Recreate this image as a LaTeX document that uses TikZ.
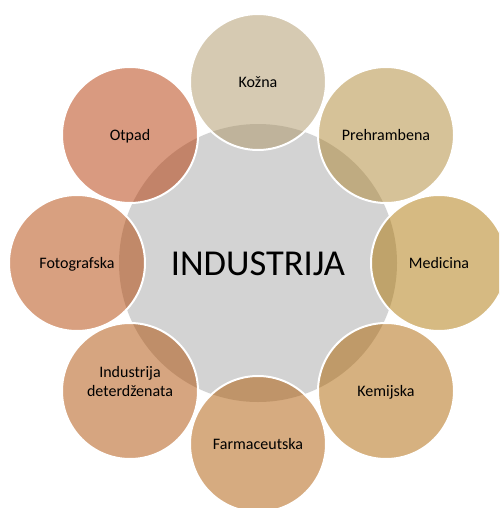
\documentclass[tikz,border=0pt]{standalone}
\usepackage{fontspec}
\setmainfont{Carlito}
\definecolor{centergrey}{RGB}{211,211,211}
\definecolor{cA}{RGB}{173,149,101}
\definecolor{cB}{RGB}{173,133,49}
\definecolor{cC}{RGB}{173,117,5}
\definecolor{cD}{RGB}{173,99,1}
\definecolor{cE}{RGB}{173,87,1}
\definecolor{cF}{RGB}{173,75,1}
\definecolor{cG}{RGB}{177,65,1}
\definecolor{cH}{RGB}{179,53,1}
\tikzset{
  bub/.style={circle, minimum size=136pt, inner sep=0pt, draw=white, line width=2pt,
    fill opacity=0.5, text opacity=1, text=black, align=center,
    font=\fontsize{16}{19}\selectfont, text height=10.3pt, text depth=0pt},
  hub/.style={circle, minimum size=278pt, inner sep=0pt, fill=centergrey},
  title/.style={font=\fontsize{36.5}{40}\selectfont, text=black, inner sep=0pt}
}
\begin{document}
\begin{tikzpicture}[x=1pt,y=-1pt]
\useasboundingbox (0,0) rectangle (499,508);
\clip (0,0) rectangle (499,508);
\node[hub] (hub) at (258,263) {};
\node[bub, fill=cA] (kozna) at (258,82) {Kožna};
\node[bub, fill=cB] (prehr) at (386,135) {Prehrambena};
\node[bub, fill=cC] (med) at (439,263) {Medicina};
\node[bub, fill=cD] (kem) at (386,391) {Kemijska};
\node[bub, fill=cE] (farm) at (258,444) {Farmaceutska};
\node[bub, fill=cF] (det) at (130,391) {Industrija\\deterdženata};
\node[bub, fill=cG] (foto) at (77,263) {Fotografska};
\node[bub, fill=cH] (otpad) at (130,135) {Otpad};
\node[title, anchor=base] (ind) at (258,275) {INDUSTRIJA};
\end{tikzpicture}
\end{document}
